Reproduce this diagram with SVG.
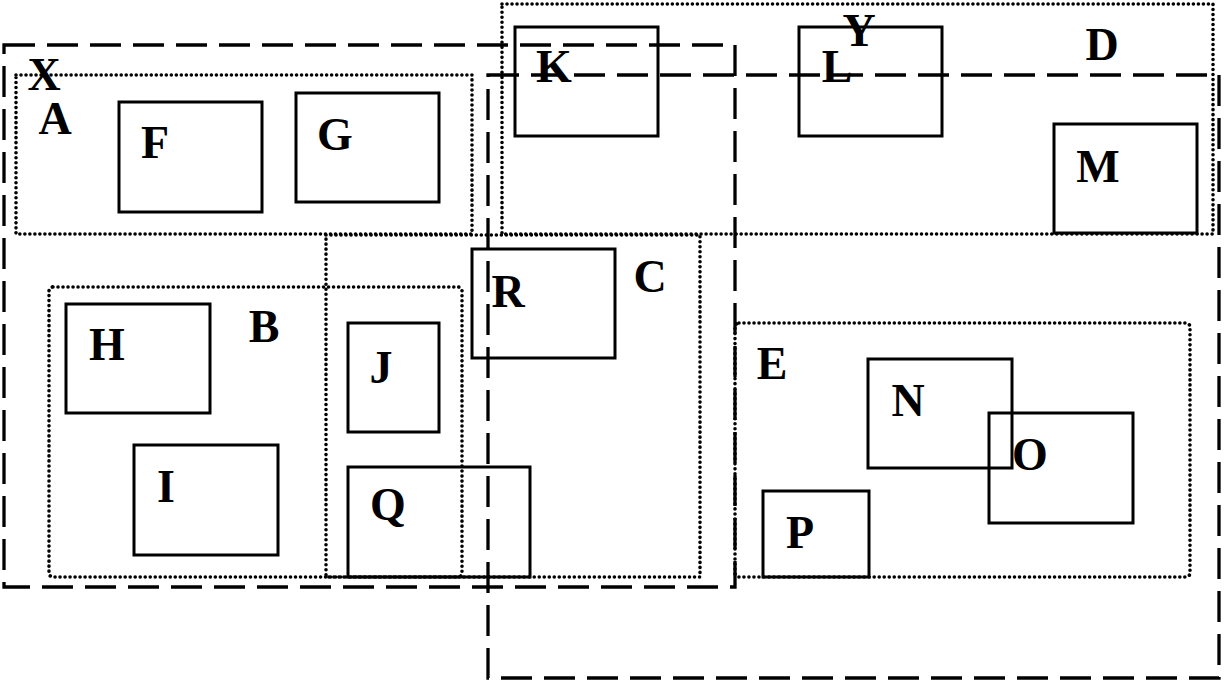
<svg xmlns="http://www.w3.org/2000/svg" width="1225" height="686" viewBox="0 0 1225 686">
<style>
.dash{fill:none;stroke:#000;stroke-width:3.3;stroke-dasharray:31 12}
.dot{fill:none;stroke:#000;stroke-width:3.6;stroke-linecap:round;stroke-dasharray:0.01 5}
.box{fill:none;stroke:#000;stroke-width:3}
.lbl{font-family:"Liberation Serif","Times New Roman",serif;font-weight:bold;font-size:46px;fill:#000;text-anchor:middle}
</style>
<rect width="1225" height="686" fill="#fff"/>
<g id="containers">
<g id="X"><rect class="dash" x="4" y="45" width="731" height="542"/><text class="lbl" x="44" y="90">X</text></g>
<g id="Y"><rect class="dash" x="488" y="75" width="731" height="603"/><text class="lbl" x="859" y="46">Y</text></g>
<g id="A"><rect class="dot" x="16" y="75" width="456" height="159"/><text class="lbl" x="55" y="134">A</text></g>
<g id="D"><rect class="dot" x="502" y="4" width="711" height="230"/><text class="lbl" x="1102" y="60">D</text></g>
<g id="B"><rect class="dot" x="49" y="287" width="413" height="290" rx="4"/><text class="lbl" x="264" y="342">B</text></g>
<g id="C"><rect class="dot" x="326" y="235" width="374" height="342"/><text class="lbl" x="650" y="292">C</text></g>
<g id="E"><rect class="dot" x="735" y="323" width="455" height="254" rx="4"/><text class="lbl" x="772" y="379">E</text></g>
</g>
<g id="nodes">
<g id="F"><rect class="box" x="119" y="102" width="143" height="110"/><text class="lbl" x="155" y="158">F</text></g>
<g id="G"><rect class="box" x="296" y="93" width="143" height="109"/><text class="lbl" x="335" y="150">G</text></g>
<g id="K"><rect class="box" x="515" y="27" width="143" height="109"/><text class="lbl" x="554" y="82">K</text></g>
<g id="L"><rect class="box" x="799" y="27" width="143" height="109"/><text class="lbl" x="837" y="82">L</text></g>
<g id="M"><rect class="box" x="1054" y="124" width="143" height="109"/><text class="lbl" x="1098" y="182">M</text></g>
<g id="R"><rect class="box" x="472" y="249" width="143" height="109"/><text class="lbl" x="508" y="307">R</text></g>
<g id="H"><rect class="box" x="66" y="304" width="144" height="109"/><text class="lbl" x="107" y="360">H</text></g>
<g id="I"><rect class="box" x="134" y="445" width="144" height="110"/><text class="lbl" x="166" y="502">I</text></g>
<g id="J"><rect class="box" x="348" y="323" width="91" height="109"/><text class="lbl" x="381" y="383">J</text></g>
<g id="Q"><rect class="box" x="348" y="467" width="182" height="110"/><text class="lbl" x="388" y="520">Q</text></g>
<g id="N"><rect class="box" x="868" y="359" width="144" height="109"/><text class="lbl" x="908" y="416">N</text></g>
<g id="O"><rect class="box" x="989" y="413" width="144" height="110"/><text class="lbl" x="1030" y="470">O</text></g>
<g id="P"><rect class="box" x="763" y="491" width="106" height="86"/><text class="lbl" x="800" y="548">P</text></g>
</g>
<g id="connectors"/>
</svg>
